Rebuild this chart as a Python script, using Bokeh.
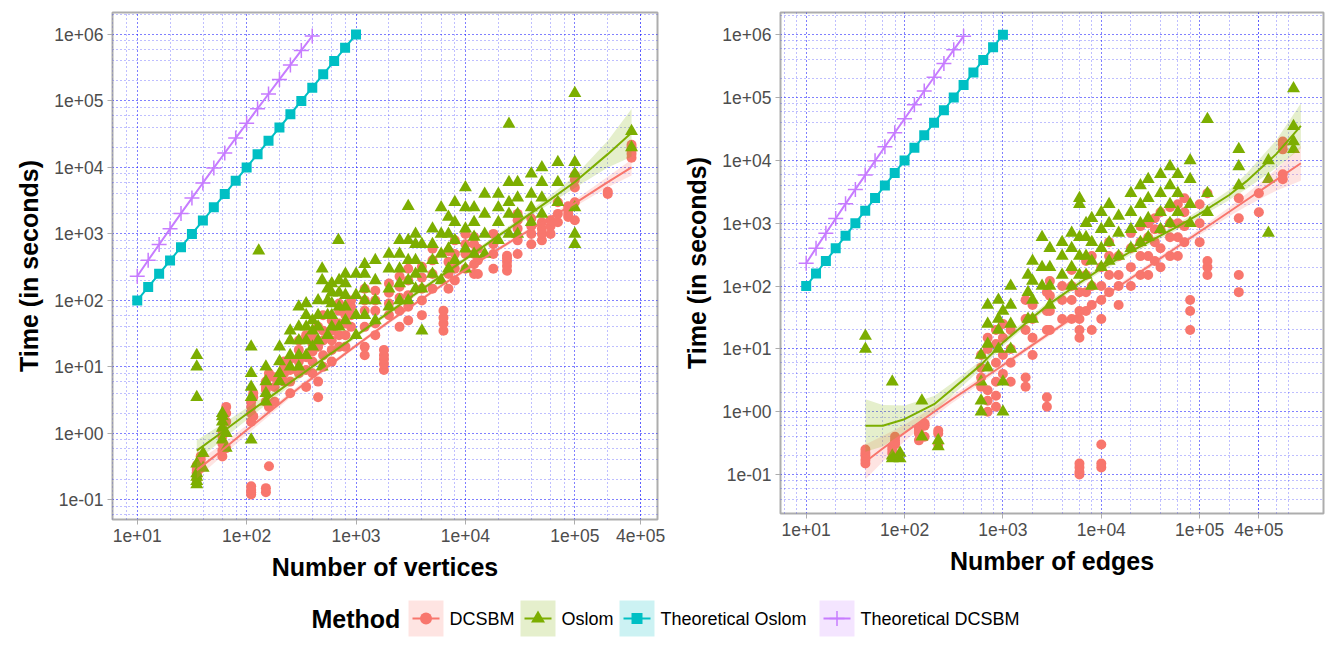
from bokeh.plotting import figure
from bokeh.layouts import column, row
from bokeh.models import Range1d, FixedTicker, CustomJSTickFormatter
from bokeh.core.properties import value
from bokeh.embed import file_html
from bokeh.resources import INLINE

FONT = "Liberation Sans"
C_DCSBM, C_OSLOM, C_TOSLOM, C_TDCSBM = "#F8766D", "#7CAE00", "#00BFC4", "#C77CFF"

methods = ["DCSBM", "Oslom", "Theoretical Oslom", "Theoretical DCSBM"]

# ---------------------------------------------------------------- measured runs
# (network size, [run times in seconds]) -- size = number of vertices
dcsbm_by_vertices = [
    (35, [0.2, 0.22, 0.25, 0.28, 0.3, 0.33, 0.26]),
    (38, [0.3, 0.35, 0.4, 0.45]),
    (60, [0.45, 0.55, 0.7, 0.9, 1.1]),
    (65, [0.6, 1.5, 2.0, 2.5]),
    (110, [0.12, 0.13, 0.14, 0.16, 1.5, 2.0, 2.5, 3.0]),
    (115, [1.8, 3.5, 4.0]),
    (150, [0.13, 0.15, 3.0, 4.5, 5.0, 6.0]),
    (160, [0.32, 2.5, 7.0, 8.0]),
    (180, [3.0, 5.0, 7.0]),
    (220, [6.0, 8.0, 10.0, 12.0]),
    (250, [4.0, 6.0, 9.0, 13.0]),
    (300, [8.0, 12.0, 18.0, 25.0]),
    (350, [5.0, 9.0, 14.0, 30.0]),
    (400, [8.0, 12.0, 17.0, 22.0, 28.0]),
    (450, [3.5, 6.0, 20.0, 40.0]),
    (500, [10.0, 15.0, 25.0, 35.0, 60.0]),
    (600, [12.0, 18.0, 25.0, 35.0, 50.0]),
    (700, [20.0, 30.0, 45.0, 70.0, 90.0]),
    (800, [20.0, 30.0, 45.0, 60.0, 80.0]),
    (900, [40.0, 60.0, 80.0, 100.0]),
    (1200, [15.0, 20.0, 40.0, 70.0, 100.0, 150.0]),
    (1500, [30.0, 45.0, 70.0, 100.0, 140.0]),
    (1800, [9.0, 11.0, 13.0, 15.0, 18.0]),
    (2000, [60.0, 90.0, 130.0, 180.0]),
    (2500, [40.0, 70.0, 110.0, 160.0, 230.0]),
    (3000, [50.0, 80.0, 120.0, 200.0, 300.0]),
    (4000, [60.0, 100.0, 150.0, 220.0, 320.0]),
    (5000, [150.0, 250.0, 400.0, 600.0]),
    (6300, [35.0, 45.0, 55.0, 70.0]),
    (7000, [150.0, 250.0, 380.0, 550.0]),
    (8000, [200.0, 300.0, 500.0, 800.0]),
    (10000, [300.0, 500.0, 700.0, 1000.0]),
    (12000, [250.0, 350.0, 500.0, 700.0, 900.0]),
    (13000, [250.0, 400.0, 600.0]),
    (18000, [300.0, 500.0, 700.0, 1000.0]),
    (24000, [280.0, 330.0, 380.0, 430.0, 470.0]),
    (30000, [500.0, 800.0, 1200.0, 1600.0, 2000.0]),
    (40000, [700.0, 1000.0, 1300.0, 1700.0]),
    (50000, [800.0, 1000.0, 1200.0, 1500.0]),
    (60000, [1000.0, 1300.0, 1600.0]),
    (70000, [1500.0, 2000.0, 3000.0]),
    (87000, [1800.0, 2000.0, 2300.0, 2600.0]),
    (100000, [1600.0, 3000.0, 5000.0, 6500.0, 7600.0]),
    (200000, [4000.0, 4300.0]),
    (330000, [14000.0, 16000.0, 18000.0, 20000.0, 22000.0]),
]
oslom_by_vertices = [
    (35, [0.17, 0.19, 0.22, 0.25, 0.35, 3.5, 10.0, 15.0]),
    (40, [0.3, 0.5]),
    (60, [0.8, 1.2, 1.5, 1.8, 2.0]),
    (65, [0.6, 1.0]),
    (110, [0.8, 3.5, 5.0, 8.0, 20.0]),
    (129, [560.0]),
    (150, [3.0, 4.0, 6.0, 10.0]),
    (200, [6.0, 8.0, 12.0, 20.0]),
    (250, [10.0, 15.0, 25.0, 35.0]),
    (300, [10.0, 15.0, 25.0, 40.0, 80.0]),
    (350, [15.0, 25.0, 40.0, 60.0, 90.0]),
    (400, [20.0, 35.0, 50.0]),
    (450, [25.0, 40.0, 60.0, 100.0]),
    (490, [10.0, 200.0, 300.0]),
    (550, [30.0, 60.0, 100.0, 150.0]),
    (600, [40.0, 60.0, 90.0, 130.0, 180.0]),
    (690, [800.0]),
    (700, [40.0, 80.0, 130.0, 200.0]),
    (800, [50.0, 80.0, 120.0, 180.0, 250.0]),
    (1000, [30.0, 60.0, 120.0, 250.0]),
    (1200, [60.0, 100.0, 150.0, 250.0, 350.0]),
    (1500, [50.0, 100.0, 200.0, 400.0]),
    (2000, [80.0, 150.0, 300.0, 500.0]),
    (2500, [100.0, 180.0, 300.0, 500.0, 800.0]),
    (3000, [100.0, 200.0, 400.0, 800.0, 2600.0]),
    (3500, [150.0, 250.0, 400.0, 700.0, 1000.0]),
    (4000, [35.0, 150.0, 300.0, 700.0]),
    (5000, [250.0, 400.0, 700.0, 1200.0]),
    (6000, [200.0, 500.0, 1000.0, 2500.0]),
    (7000, [300.0, 600.0, 1000.0, 1800.0]),
    (8000, [400.0, 800.0, 1500.0, 3000.0]),
    (10000, [300.0, 600.0, 1200.0, 2500.0, 5000.0]),
    (12000, [500.0, 900.0, 1500.0, 2500.0]),
    (15000, [500.0, 1000.0, 2000.0, 4000.0]),
    (20000, [800.0, 1500.0, 2500.0, 4000.0]),
    (25000, [1000.0, 2000.0, 3000.0, 6000.0, 45000.0]),
    (30000, [1000.0, 2000.0, 3500.0, 6000.0]),
    (40000, [1500.0, 2500.0, 4000.0, 8000.0]),
    (50000, [2000.0, 3500.0, 6000.0, 10000.0]),
    (70000, [3000.0, 6000.0, 12000.0]),
    (100000, [700.0, 1000.0, 2500.0, 8000.0, 12000.0, 130000.0]),
    (330000, [20000.0, 35000.0]),
]
# size = number of edges
dcsbm_by_edges = [
    (40, [0.15, 0.17, 0.2, 0.22, 0.25]),
    (75, [0.22, 0.25, 0.28]),
    (80, [0.3, 0.32, 0.35, 0.4]),
    (140, [0.35, 0.45, 0.5, 0.55]),
    (160, [0.4, 0.6, 0.65]),
    (220, [0.3, 0.45, 0.5]),
    (600, [2.5, 3.5, 5.0, 8.0]),
    (700, [1.0, 1.5, 2.2, 10.0, 15.0]),
    (850, [1.2, 1.8, 3.0, 6.0, 12.0, 20.0]),
    (1000, [4.0, 8.0, 15.0, 25.0]),
    (1200, [3.0, 6.0, 10.0, 20.0]),
    (1700, [2.5, 3.5, 20.0, 30.0, 60.0]),
    (2000, [8.0, 15.0, 30.0, 50.0]),
    (2800, [1.2, 1.7, 20.0, 40.0, 80.0]),
    (3000, [20.0, 40.0, 70.0, 120.0]),
    (4000, [30.0, 60.0, 100.0]),
    (5000, [30.0, 60.0, 100.0, 180.0]),
    (6000, [0.1, 0.11, 0.13, 0.15, 15.0, 20.0, 30.0, 40.0, 80.0]),
    (7000, [40.0, 80.0, 150.0, 250.0]),
    (8000, [20.0, 50.0, 100.0, 300.0]),
    (10000, [0.13, 0.15, 0.3, 30.0, 60.0, 100.0, 200.0]),
    (12000, [80.0, 150.0, 300.0, 500.0]),
    (15000, [50.0, 100.0, 150.0, 300.0]),
    (20000, [100.0, 200.0, 400.0, 700.0]),
    (25000, [150.0, 300.0, 500.0, 900.0]),
    (30000, [150.0, 300.0, 600.0, 1000.0]),
    (35000, [250.0, 500.0, 800.0, 1200.0]),
    (40000, [200.0, 400.0, 800.0, 1500.0]),
    (50000, [300.0, 600.0, 1000.0, 1800.0]),
    (60000, [300.0, 600.0, 1000.0, 2000.0]),
    (70000, [500.0, 900.0, 1500.0, 2500.0]),
    (80000, [20.0, 40.0, 60.0]),
    (100000, [500.0, 1000.0, 2000.0]),
    (120000, [150.0, 200.0, 250.0, 3000.0]),
    (250000, [80.0, 150.0, 1200.0, 2500.0]),
    (400000, [1500.0, 3000.0]),
    (700000, [5000.0, 6000.0, 15000.0, 18000.0, 20000.0]),
]
oslom_by_edges = [
    (40, [10.0, 16.0]),
    (75, [0.18, 0.2, 3.0]),
    (90, [0.18, 0.22]),
    (150, [0.4, 1.5]),
    (220, [0.28, 0.35]),
    (600, [1.0, 1.5, 3.0, 8.0]),
    (700, [5.0, 12.0, 25.0, 50.0]),
    (900, [10.0, 20.0, 30.0, 60.0]),
    (1000, [1.0, 3.0, 40.0]),
    (1200, [10.0, 25.0, 50.0, 100.0]),
    (1800, [30.0, 80.0, 150.0]),
    (2000, [30.0, 60.0, 120.0, 250.0]),
    (2500, [100.0, 200.0, 600.0]),
    (3000, [50.0, 100.0, 200.0, 400.0]),
    (4000, [150.0, 300.0, 500.0]),
    (5000, [100.0, 200.0, 400.0, 700.0]),
    (6000, [150.0, 300.0, 600.0, 2000.0, 2500.0]),
    (7000, [150.0, 300.0, 600.0, 1000.0]),
    (8000, [100.0, 250.0, 500.0, 1200.0]),
    (10000, [200.0, 400.0, 800.0, 1500.0]),
    (12000, [250.0, 500.0, 1000.0, 2000.0]),
    (15000, [300.0, 700.0, 1300.0]),
    (20000, [400.0, 800.0, 1500.0, 3000.0]),
    (25000, [500.0, 1000.0, 2000.0, 4000.0]),
    (30000, [600.0, 1200.0, 2500.0, 5000.0]),
    (40000, [800.0, 1500.0, 3000.0, 6000.0]),
    (50000, [1000.0, 2000.0, 4000.0, 8000.0]),
    (60000, [1500.0, 3000.0, 6000.0]),
    (80000, [1000.0, 2000.0, 5000.0, 10000.0]),
    (120000, [1500.0, 3000.0, 45000.0]),
    (250000, [4000.0, 8000.0, 15000.0]),
    (500000, [700.0, 5000.0, 10000.0]),
    (900000, [15000.0, 20000.0, 35000.0, 140000.0]),
]

# ---------------------------------------------------------------- smoothed trends
smooth_vertices = [35, 60, 100, 200, 300, 600, 1000, 2000, 3000, 6000, 1e4, 2e4, 3e4, 6e4, 1e5, 2e5, 3.3e5]
dcsbm_fit_v = [0.28, 0.56, 1.12, 2.8, 4.8, 11.2, 20.9, 47.9, 75.9, 166, 288, 589, 891, 1778, 2884, 6026, 10000]
dcsbm_lo_v = [0.21, 0.46, 0.95, 2.5, 4.4, 10.4, 19.5, 44.7, 70.8, 155, 269, 549, 831, 1622, 2570, 5012, 7590]
dcsbm_hi_v = [0.37, 0.69, 1.32, 3.1, 5.3, 12.0, 22.4, 51.3, 81.4, 178, 309, 631, 955, 1950, 3236, 7244, 13180]
oslom_fit_v = [0.55, 1.05, 1.95, 4.47, 7.24, 16.2, 29.5, 66.1, 105, 234, 417, 933, 1479, 3311, 6026, 15849, 33113]
oslom_lo_v = [0.38, 0.80, 1.59, 3.89, 6.45, 14.8, 27.2, 61.0, 96.9, 216, 385, 851, 1349, 2884, 4899, 10000, 14454]
oslom_hi_v = [0.79, 1.38, 2.40, 5.13, 8.12, 17.8, 32.0, 71.7, 114, 254, 452, 1023, 1621, 3801, 7412, 25119, 75858]

smooth_edges = [40, 60, 100, 200, 300, 600, 1000, 2000, 3000, 6000, 1e4, 2e4, 3e4, 6e4, 1e5, 2e5, 3e5, 6e5, 1.07e6]
dcsbm_fit_e = [0.16, 0.26, 0.46, 1.0, 1.55, 3.2, 5.5, 11.6, 17.8, 37, 64, 133, 204, 426, 731, 1524, 2344, 4887, 9016]
dcsbm_lo_e = [0.084, 0.16, 0.34, 0.83, 1.35, 2.85, 4.96, 10.6, 16.2, 33.8, 58.4, 121, 186, 384, 652, 1297, 1862, 3304, 4733]
dcsbm_hi_e = [0.30, 0.41, 0.62, 1.20, 1.78, 3.59, 6.10, 12.7, 19.5, 40.6, 70.1, 146, 224, 472, 820, 1791, 2951, 7228, 17175]
oslom_fit_e = [0.60, 0.60, 0.76, 1.32, 2.24, 5.62, 12.6, 31.6, 52.5, 112, 191, 355, 501, 891, 1413, 2818, 4677, 12589, 35481]
oslom_lo_e = [0.23, 0.28, 0.46, 0.98, 1.78, 4.78, 11.0, 28.2, 46.8, 99.8, 170, 316, 447, 794, 1231, 2344, 3548, 7584, 15488]
oslom_hi_e = [1.58, 1.28, 1.26, 1.78, 2.82, 6.60, 14.5, 35.5, 58.9, 126, 214, 398, 562, 1000, 1622, 3388, 6166, 20893, 81283]

# ---------------------------------------------------------------- theoretical costs
theo_size = [10.0, 12.59, 15.85, 19.95, 25.12, 31.62, 39.81, 50.12, 63.10, 79.43, 100.0,
             125.9, 158.5, 199.5, 251.2, 316.2, 398.1, 501.2, 631.0, 794.3, 1000.0]
theo_oslom_t = [100, 158.5, 251.2, 398.1, 631.0, 1000, 1585, 2512, 3981, 6310, 1.0e4,
                1.585e4, 2.512e4, 3.981e4, 6.310e4, 1.0e5, 1.585e5, 2.512e5, 3.981e5, 6.310e5, 1.0e6]
theo_dcsbm_t = [230.3, 401.5, 694.1, 1192, 2034, 3454, 5839, 9833, 16500, 27605, 46052,
                76636, 127245, 210834, 348680, 575650, 948830]

# ---------------------------------------------------------------- axis breaks
x_breaks = [10, 100, 1000, 1e4, 1e5, 4e5]
y_breaks = [0.1, 1, 10, 100, 1e3, 1e4, 1e5, 1e6]
x_minor = [m * 10.0 ** k for k in range(0, 7) for m in (2, 4, 6, 8)]
y_minor = [m * 10.0 ** k for k in range(-2, 7) for m in (2, 4, 6, 8)]

SCI = CustomJSTickFormatter(code="""
    const s = tick.toExponential(0);
    const m = s.match(/^(\\d)e([+-])(\\d+)$/);
    return m ? m[1] + "e" + m[2] + m[3].padStart(2, "0") : s;
""")

PANEL_BOTTOM = 599   # height of the row holding both panels


def flatten(groups):
    xs, ys = [], []
    for size, times in groups:
        for t in times:
            xs.append(size)
            ys.append(t)
    return xs, ys


def panel(xlabel, xr, yr, dcsbm, oslom, sx, dfit, dlo, dhi, ofit, olo, ohi,
          frame_w, frame_h, border_right):
    p = figure(frame_width=frame_w, frame_height=frame_h,
               x_axis_type="log", y_axis_type="log",
               x_range=Range1d(*xr), y_range=Range1d(*yr),
               output_backend="svg", toolbar_location=None,
               min_border_left=112, min_border_right=border_right,
               min_border_top=12, min_border_bottom=PANEL_BOTTOM - 12 - frame_h)
    p.background_fill_color = "white"
    p.outline_line_color = "#ADADAD"
    p.outline_line_width = 2

    p.xaxis.ticker = FixedTicker(ticks=x_breaks, minor_ticks=x_minor)
    p.yaxis.ticker = FixedTicker(ticks=y_breaks, minor_ticks=y_minor)
    p.axis.formatter = SCI
    p.axis.axis_line_color = None
    p.axis.major_tick_line_color = "#ADADAD"
    p.axis.major_tick_out = 5
    p.axis.major_tick_in = 0
    p.axis.minor_tick_line_color = None
    p.axis.major_label_text_font = FONT
    p.axis.major_label_text_font_size = "17.5px"
    p.axis.major_label_text_color = "#4D4D4D"
    p.axis.major_label_standoff = 4
    p.axis.axis_label_text_font = FONT
    p.axis.axis_label_text_font_size = "25px"
    p.axis.axis_label_text_font_style = "bold"
    p.axis.axis_label_text_color = "black"
    p.xaxis.axis_label_standoff = 8
    p.yaxis.axis_label_standoff = 8
    p.xaxis.axis_label = xlabel
    p.yaxis.axis_label = "Time (in seconds)"

    p.grid.grid_line_color = "#0000FF"
    p.grid.grid_line_alpha = 1.0
    p.grid.grid_line_dash = "1 3"
    p.grid.grid_line_width = 1.1
    p.grid.minor_grid_line_color = "#0000FF"
    p.grid.minor_grid_line_alpha = 0.5
    p.grid.minor_grid_line_dash = "1 3"
    p.grid.minor_grid_line_width = 1

    dx, dy = flatten(dcsbm)
    ox, oy = flatten(oslom)
    p.scatter(dx, dy, marker="circle", size=10, fill_color=C_DCSBM, line_color=None)
    p.scatter(ox, oy, marker="triangle", size=13, fill_color=C_OSLOM, line_color=None)

    p.varea(x=sx, y1=dlo, y2=dhi, fill_color=C_DCSBM, fill_alpha=0.2)
    p.varea(x=sx, y1=olo, y2=ohi, fill_color=C_OSLOM, fill_alpha=0.2)
    p.line(sx, dfit, line_color=C_DCSBM, line_width=2)
    p.line(sx, ofit, line_color=C_OSLOM, line_width=2)

    p.line(theo_size, theo_oslom_t, line_color=C_TOSLOM, line_width=2)
    p.scatter(theo_size, theo_oslom_t, marker="square", size=10, fill_color=C_TOSLOM, line_color=None)
    td_x = theo_size[:len(theo_dcsbm_t)]
    p.line(td_x, theo_dcsbm_t, line_color=C_TDCSBM, line_width=2)
    p.scatter(td_x, theo_dcsbm_t, marker="cross", size=15, line_color=C_TDCSBM, line_width=1.5)
    return p


p1 = panel("Number of vertices", (5.94, 5.7e5), (0.0506, 2.14e6),
           dcsbm_by_vertices, oslom_by_vertices, smooth_vertices,
           dcsbm_fit_v, dcsbm_lo_v, dcsbm_hi_v, oslom_fit_v, oslom_lo_v, oslom_hi_v,
           frame_w=545, frame_h=507, border_right=11)
p2 = panel("Number of edges", (5.48, 1.816e6), (0.024, 2.26e6),
           dcsbm_by_edges, oslom_by_edges, smooth_edges,
           dcsbm_fit_e, dcsbm_lo_e, dcsbm_hi_e, oslom_fit_e, oslom_lo_e, oslom_hi_e,
           frame_w=543, frame_h=501, border_right=13)

# ---------------------------------------------------------------- shared legend
LEG_H = 648 - PANEL_BOTTOM
leg = figure(width=1336, height=LEG_H, x_range=Range1d(0, 1336), y_range=Range1d(0, LEG_H),
             output_backend="svg", toolbar_location=None,
             x_axis_location=None, y_axis_location=None, min_border=0)
leg.grid.visible = False
leg.outline_line_color = None

key_left = [408, 520, 619, 819]
key_colors = [C_DCSBM, C_OSLOM, C_TOSLOM, C_TDCSBM]
key_markers = ["circle", "triangle", "square", "cross"]
key_sizes = [12, 14, 11, 15]
KEY_W, KEY_H, MID = 35, 36, LEG_H - 19

leg.text(x=[311], y=[MID], text=["Method"], text_font=value(FONT), text_font_size="25px",
         text_font_style="bold", text_baseline="middle", text_color="black")
for x0, name, col, mk, sz in zip(key_left, methods, key_colors, key_markers, key_sizes):
    leg.quad(left=[x0], right=[x0 + KEY_W], bottom=[MID - KEY_H / 2], top=[MID + KEY_H / 2],
             fill_color=col, fill_alpha=0.2, line_color=None)
    leg.segment(x0=[x0 + 4], y0=[MID], x1=[x0 + KEY_W - 4], y1=[MID], line_color=col, line_width=2)
    if mk == "cross":
        leg.scatter([x0 + KEY_W / 2], [MID], marker=mk, size=sz, line_color=col, line_width=1.5)
    else:
        leg.scatter([x0 + KEY_W / 2], [MID], marker=mk, size=sz, fill_color=col, line_color=None)
    leg.text(x=[x0 + KEY_W + 6], y=[MID], text=[name], text_font=value(FONT),
             text_font_size="18px", text_baseline="middle", text_color="black")

layout = column(row(p1, p2), leg)
open("out.html", "w").write(file_html(layout, INLINE))
